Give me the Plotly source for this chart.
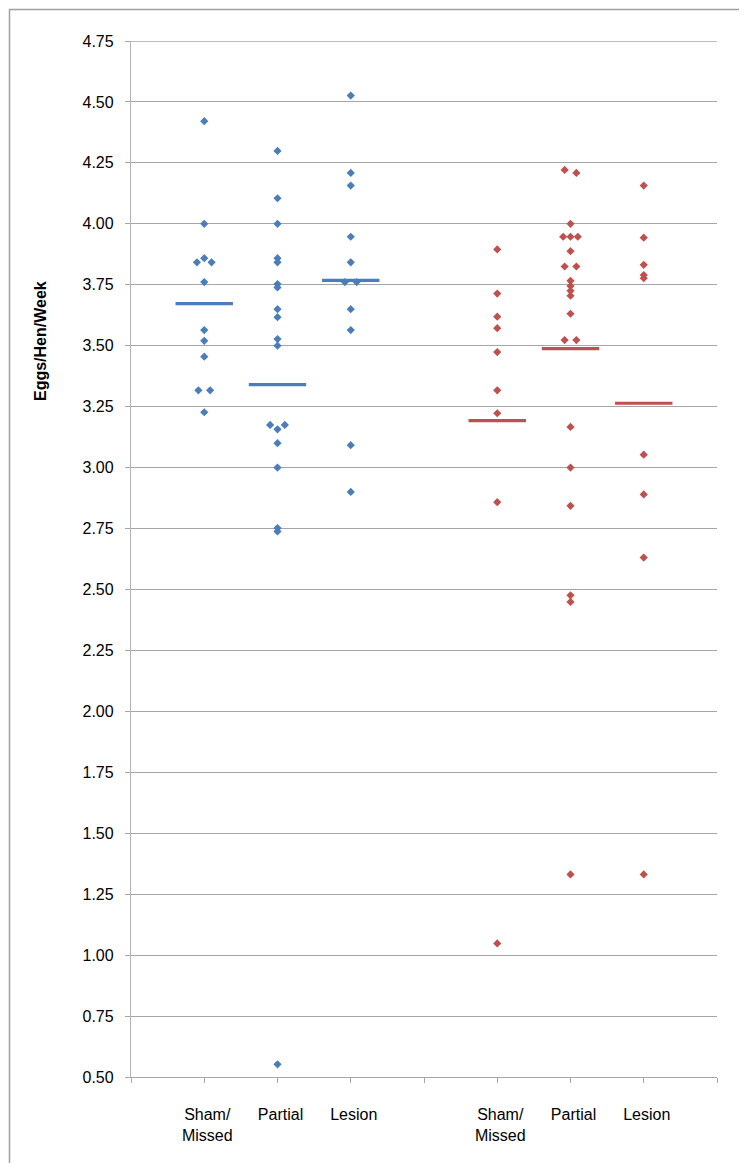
import plotly.graph_objects as go

# ---------------- data ----------------
categories = ["Sham/<br>Missed", "Partial", "Lesion"]
blue_pos = [1, 2, 3]
red_pos = [5, 6, 7]

blue_sham = [4.421, 4.00, 3.859, 3.842, 3.842, 3.761, 3.564, 3.520, 3.455, 3.317, 3.317, 3.227]
blue_sham_dx = [0, 0, 0, -0.1, 0.1, 0, 0, 0, 0, -0.08, 0.08, 0]

blue_partial = [4.299, 4.105, 4.00, 3.859, 3.842, 3.753, 3.739, 3.650, 3.617, 3.527, 3.500,
                3.175, 3.175, 3.157, 3.100, 3.00, 2.752, 2.738, 0.552]
blue_partial_dx = [0, 0, 0, 0, 0, 0, 0, 0, 0, 0, 0, -0.1, 0.1, 0, 0, 0, 0, 0, 0]

blue_lesion = [4.526, 4.209, 4.157, 3.947, 3.842, 3.761, 3.761, 3.650, 3.564, 3.092, 2.900]
blue_lesion_dx = [0, 0, 0, 0, 0, -0.08, 0.08, 0, 0, 0, 0]

red_sham = [3.895, 3.714, 3.619, 3.572, 3.474, 3.317, 3.223, 2.858, 1.048]
red_sham_dx = [0, 0, 0, 0, 0, 0, 0, 0, 0]

red_partial = [4.221, 4.209, 4.00, 3.947, 3.947, 3.947, 3.888, 3.825, 3.825,
               3.766, 3.745, 3.725, 3.705, 3.631, 3.523, 3.523, 3.167, 3.00,
               2.843, 2.476, 2.449, 1.331]
red_partial_dx = [-0.08, 0.08, 0, -0.1, 0, 0.1, 0, -0.08, 0.08,
                  0, 0, 0, 0, 0, -0.08, 0.08, 0, 0,
                  0, 0, 0, 0]

red_lesion = [4.157, 3.943, 3.832, 3.790, 3.777, 3.053, 2.890, 2.631, 1.331]
red_lesion_dx = [0, 0, 0, 0, 0, 0, 0, 0, 0]

blue_means = [3.673, 3.340, 3.768]
red_means = [3.193, 3.488, 3.264]

y_ticks = [0.50 + 0.25 * i for i in range(18)]

# ---------------- styling ----------------
BLUE = "#4A7EBB"
RED = "#C0504D"
GRID = "#A6A6A6"
FONT = "Liberation Sans, Arial, sans-serif"

W, H = 747, 1163
L, R, T, B = 123, 38, 33, 94
pw, ph = W - L - R, H - T - B


def px_x(p):
    return (p - L) / pw


def px_y(p):
    return (H - B - p) / ph


fig = go.Figure()

groups = [
    (blue_pos[0], blue_sham, blue_sham_dx, BLUE),
    (blue_pos[1], blue_partial, blue_partial_dx, BLUE),
    (blue_pos[2], blue_lesion, blue_lesion_dx, BLUE),
    (red_pos[0], red_sham, red_sham_dx, RED),
    (red_pos[1], red_partial, red_partial_dx, RED),
    (red_pos[2], red_lesion, red_lesion_dx, RED),
]
for cx, vals, dxs, col in groups:
    fig.add_trace(go.Scatter(
        x=[cx + d for d in dxs], y=vals, mode="markers",
        marker=dict(symbol="diamond", size=6.3, color=col),
        showlegend=False, hoverinfo="y"))

for pos, means, col in [(blue_pos, blue_means, BLUE), (red_pos, red_means, RED)]:
    fig.add_trace(go.Scatter(
        x=pos, y=means, mode="markers",
        marker=dict(symbol="line-ew", size=41, color=col,
                    line=dict(color=col, width=3.2)),
        showlegend=False, hoverinfo="y"))

xt_vals = list(range(0, 9))
xt_text = [""] * 9
for p, c in zip(blue_pos, categories):
    xt_text[p] = c
for p, c in zip(red_pos, categories):
    xt_text[p] = c

fig.update_layout(
    width=W, height=H,
    margin=dict(l=L, r=R, t=T, b=B, pad=0),
    paper_bgcolor="white", plot_bgcolor="white",
    font=dict(family=FONT, size=16, color="black"),
    xaxis=dict(range=[0, 8], tickvals=xt_vals, ticktext=xt_text,
               showgrid=False, zeroline=False, showline=True,
               linecolor=GRID, linewidth=1.3,
               ticks="outside", ticklen=5, tickcolor=GRID, tickwidth=1.3,
               ticklabelstandoff=18, ticklabelshift=3,
               tickfont=dict(family=FONT, size=16, color="black"),
               fixedrange=True),
    yaxis=dict(range=[min(y_ticks), max(y_ticks)], tickvals=y_ticks,
               ticktext=["%.2f" % v for v in y_ticks],
               showgrid=True, gridcolor=GRID, gridwidth=1.3,
               zeroline=False, showline=True, linecolor="#B4B4B4", linewidth=1.3,
               ticks="outside", ticklen=5, tickcolor=GRID, tickwidth=1.3,
               ticklabelstandoff=8,
               tickfont=dict(family=FONT, size=16, color="black"),
               fixedrange=True),
    annotations=[dict(text="<b>Eggs/Hen/Week</b>", textangle=-90,
                      xref="paper", yref="paper", x=px_x(32), y=px_y(333),
                      xanchor="center", yanchor="middle", showarrow=False,
                      font=dict(family=FONT, size=16, color="black"))],
    shapes=[
        dict(type="rect", xref="paper", yref="paper",
             x0=px_x(1.5), x1=px_x(745.5), y0=px_y(1161.5), y1=px_y(1.5),
             line=dict(color="#A0A0A0", width=1.5), layer="below"),
        # top gridline (Plotly omits the gridline at the range edge)
        dict(type="line", xref="paper", yref="y",
             x0=px_x(L - 5), x1=1, y0=max(y_ticks), y1=max(y_ticks),
             line=dict(color=GRID, width=1.3), layer="below"),
    ],
)

fig.write_html("out.html")
